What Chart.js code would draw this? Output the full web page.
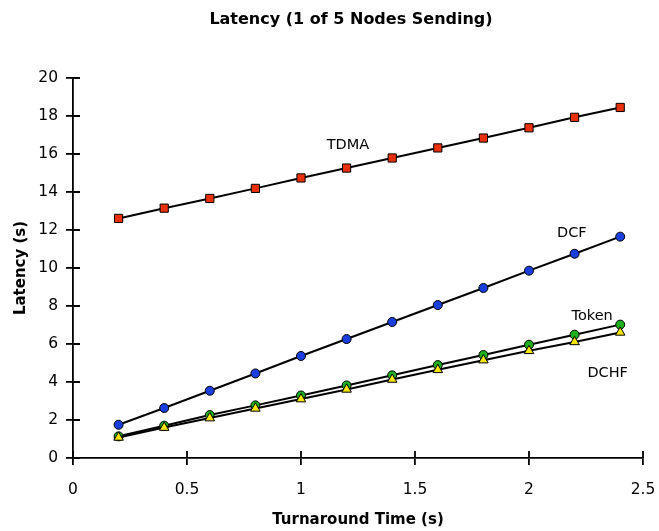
<!DOCTYPE html>
<html>
<head>
<meta charset="utf-8">
<script src="https://cdn.jsdelivr.net/npm/chart.js@4.4.0/dist/chart.umd.min.js"></script>
<style>
  html, body { margin: 0; padding: 0; background: #fff; }
  #wrap { width: 659px; height: 531px; }
</style>
</head>
<body>
<div id="wrap"><canvas id="latencyChart" width="659" height="531"></canvas></div>
<script>
const turnaround = [0.2, 0.4, 0.6, 0.8, 1.0, 1.2, 1.4, 1.6, 1.8, 2.0, 2.2, 2.4];
const tdma  = [12.61, 13.15, 13.66, 14.19, 14.74, 15.26, 15.79, 16.32, 16.84, 17.38, 17.93, 18.45];
const dcf   = [1.75, 2.63, 3.54, 4.45, 5.37, 6.26, 7.16, 8.05, 8.95, 9.86, 10.75, 11.65];
const token = [1.14, 1.70, 2.26, 2.77, 3.29, 3.82, 4.35, 4.89, 5.42, 5.96, 6.49, 7.02];
const dchf  = [1.08, 1.60, 2.10, 2.61, 3.10, 3.61, 4.13, 4.64, 5.15, 5.64, 6.11, 6.61];

const xTickLabels = ['0', '0.5', '1', '1.5', '2', '2.5'];
const titleText = 'Latency (1 of 5 Nodes Sending)';
const labelText = ['TDMA', 'DCF', 'Token', 'DCHF'];
const labelX = [1.206, 2.188, 2.277, 2.345];
const labelY = [16.47, 11.81, 7.45, 4.47];

const toPoints = vals => vals.map((v, i) => ({ x: turnaround[i], y: v }));

// draws the inside half of each tick so they cross the axis
const crossTicks = {
    id: 'crossTicks',
    afterDraw(chart) {
        const { ctx, scales: { x, y } } = chart;
        ctx.save();
        ctx.strokeStyle = '#000';
        ctx.lineWidth = 1.8;
        ctx.beginPath();
        y.ticks.forEach(t => {
            const py = y.getPixelForValue(t.value);
            ctx.moveTo(x.left, py);
            ctx.lineTo(x.left + 7, py);
        });
        x.ticks.forEach(t => {
            const px = x.getPixelForValue(t.value);
            ctx.moveTo(px, y.bottom);
            ctx.lineTo(px, y.bottom - 7);
        });
        ctx.stroke();
        ctx.restore();
    }
};

// series names next to the lines, plus the chart title (it sits off-centre in the original)
const seriesLabels = {
    id: 'seriesLabels',
    afterDatasetsDraw(chart) {
        const { ctx, scales: { x, y } } = chart;
        ctx.save();
        ctx.fillStyle = '#000';
        ctx.textAlign = 'center';
        ctx.textBaseline = 'middle';
        ctx.font = '14.5px "DejaVu Sans"';
        labelText.forEach((txt, i) => {
            ctx.fillText(txt, x.getPixelForValue(labelX[i]), y.getPixelForValue(labelY[i]));
        });
        ctx.font = 'bold 16px "DejaVu Sans"';
        ctx.fillText(titleText, 351, 20);
        ctx.restore();
    }
};

const common = { borderColor: '#000', borderWidth: 2, pointBorderColor: '#000', pointBorderWidth: 1, fill: false, tension: 0 };

new Chart(document.getElementById('latencyChart').getContext('2d'), {
    type: 'line',
    data: {
        datasets: [
            { ...common, label: 'DCHF', data: toPoints(dchf), pointStyle: 'triangle', pointRadius: 5.5, pointBackgroundColor: '#f4e600', order: 0 },
            { ...common, label: 'Token', data: toPoints(token), pointStyle: 'circle', pointRadius: 4.5, pointBackgroundColor: '#1fae1f', order: 1 },
            { ...common, label: 'DCF', data: toPoints(dcf), pointStyle: 'circle', pointRadius: 4.5, pointBackgroundColor: '#1a3fdc', order: 2 },
            { ...common, label: 'TDMA', data: toPoints(tdma), pointStyle: 'rect', pointRadius: 5.8, pointBackgroundColor: '#e8300c', order: 3 }
        ]
    },
    options: {
        responsive: false,
        animation: false,
        layout: { padding: { left: 0, right: 16, top: 78, bottom: 0 } },
        scales: {
            x: {
                type: 'linear', min: 0, max: 2.5,
                afterFit: s => { s.height = 73; s.paddingRight = 0; s.paddingLeft = 0; },
                ticks: { stepSize: 0.5, color: '#000', padding: 16, font: { family: 'DejaVu Sans', size: 15.5 },
                         callback: (v, i) => xTickLabels[i] },
                grid: { drawOnChartArea: false, drawTicks: true, tickLength: 7, color: '#000', lineWidth: 1.8 },
                border: { color: '#000', width: 1.8 },
                title: { display: true, text: 'Turnaround Time (s)', color: '#000', padding: { top: 0, bottom: 2 }, font: { family: 'DejaVu Sans', size: 15, weight: 'bold' } }
            },
            y: {
                min: 0, max: 20,
                afterFit: s => { s.width = 73; s.paddingTop = 0; s.paddingBottom = 0; },
                ticks: { stepSize: 2, color: '#000', padding: 8, font: { family: 'DejaVu Sans', size: 15.5 } },
                grid: { drawOnChartArea: false, drawTicks: true, tickLength: 7, color: '#000', lineWidth: 1.8 },
                border: { color: '#000', width: 1.8 },
                title: { display: true, text: 'Latency (s)', color: '#000', padding: { top: 12, bottom: 0 }, font: { family: 'DejaVu Sans', size: 15, weight: 'bold' } }
            }
        },
        plugins: {
            legend: { display: false },
            tooltip: { enabled: false },
            title: { display: false }
        }
    },
    plugins: [crossTicks, seriesLabels]
});
</script>
</body>
</html>
